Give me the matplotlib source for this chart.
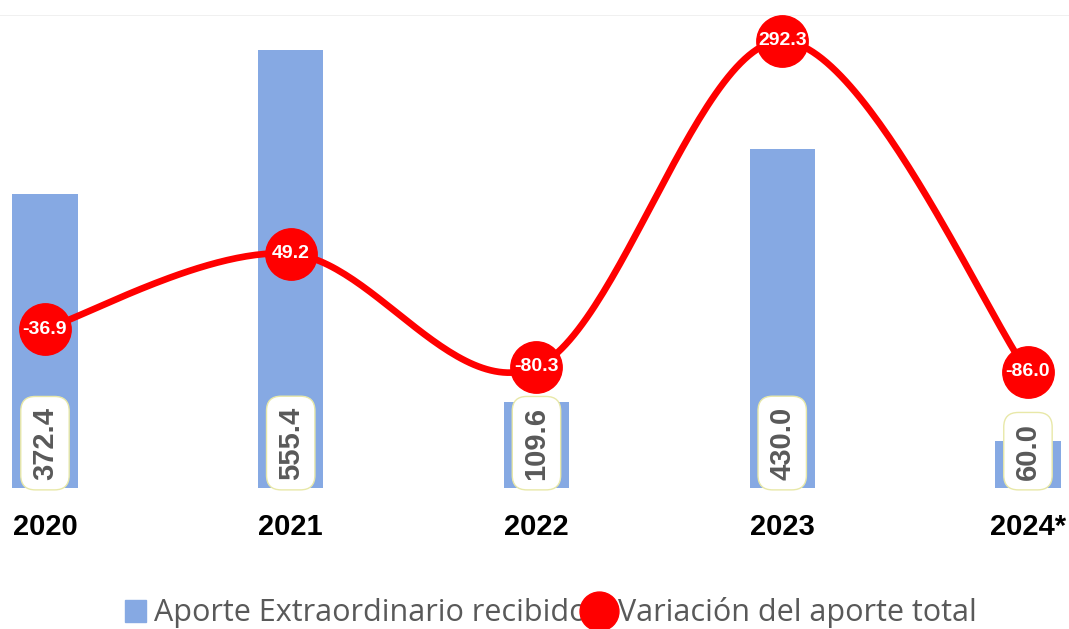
import numpy as np
import matplotlib.pyplot as plt
from matplotlib.patches import Patch
from matplotlib.lines import Line2D

years = ['2020', '2021', '2022', '2023', '2024*']
aporte = [372.4, 555.4, 109.6, 430.0, 60.0]
variacion = [-36.9, 49.2, -80.3, 292.3, -86.0]

bar_color = '#86A9E3'
red = '#FF0000'
grey = '#595959'

W, H = 1069, 629
fig = plt.figure(figsize=(W / 100, H / 100), dpi=100)
ax = fig.add_axes([0, 1 - 488 / H, 1, 473 / H])
ax2 = ax.twinx()

x = np.arange(len(years))
ax.bar(x, aporte, width=0.265, color=bar_color, zorder=2)
ax.set_xlim(-0.183, 4.167)
ax.set_ylim(0, 600)
ax.axhline(600, color='#eeeeee', lw=1.2, zorder=0)

# bar labels at the base, rotated
for xi, v in zip(x, aporte):
    ax.annotate('%.1f' % v, (xi, 0), xytext=(0, 6), textcoords='offset points',
                rotation=90, ha='center', va='bottom', fontsize=21,
                fontweight='bold', color=grey, family='Liberation Sans',
                bbox=dict(boxstyle='round,pad=0.35,rounding_size=0.5',
                          fc='white', ec='#E8E8A8', lw=1), zorder=5)

# smooth line (bezier through the points, like Excel smoothing)
def smooth(xs, ys, n=60):
    pts = np.column_stack([xs, ys]).astype(float)
    ext = np.vstack([pts[0], pts, pts[-1]])
    out = []
    t = np.linspace(0, 1, n)[:, None]
    for i in range(len(pts) - 1):
        p0, p1, p2, p3 = ext[i], ext[i + 1], ext[i + 2], ext[i + 3]
        c1 = p1 + (p2 - p0) / 6
        c2 = p2 - (p3 - p1) / 6
        seg = ((1 - t) ** 3) * p1 + 3 * ((1 - t) ** 2) * t * c1 + 3 * (1 - t) * t ** 2 * c2 + t ** 3 * p2
        out.append(seg)
    out = np.vstack(out)
    return out[:, 0], out[:, 1]

sx, sy = smooth(x, variacion)
ax2.plot(sx, sy, color=red, lw=4.8, zorder=3, solid_capstyle='round')
ax2.plot(x, variacion, 'o', color=red, ms=37, zorder=4)
for xi, v in zip(x, variacion):
    ax2.text(xi, v, '%.1f' % v, ha='center', va='center', color='white',
             fontsize=14, fontweight='bold', family='Liberation Sans', zorder=6)
ax2.set_ylim(-218.6, 322)

for a in (ax, ax2):
    for s in a.spines.values():
        s.set_visible(False)
    a.set_yticks([])
ax.set_xticks(x)
ax.set_xticklabels(years, fontsize=21, fontweight='bold', family='Liberation Sans')
ax.tick_params(axis='x', length=0, pad=18)

handles = [Patch(color=bar_color),
           Line2D([], [], color=red, marker='o', ms=28, lw=0)]
fig.legend(handles, ['Aporte Extraordinario recibido', 'Variación del aporte total'],
           loc='center', bbox_to_anchor=(0.515, 1 - 613 / H), ncol=2, frameon=False,
           prop={'family': 'Open Sans', 'size': 22}, labelcolor=grey,
           handlelength=0.7, handletextpad=0.25, columnspacing=0.05, borderpad=0)

fig.savefig('out.png', dpi=100)
